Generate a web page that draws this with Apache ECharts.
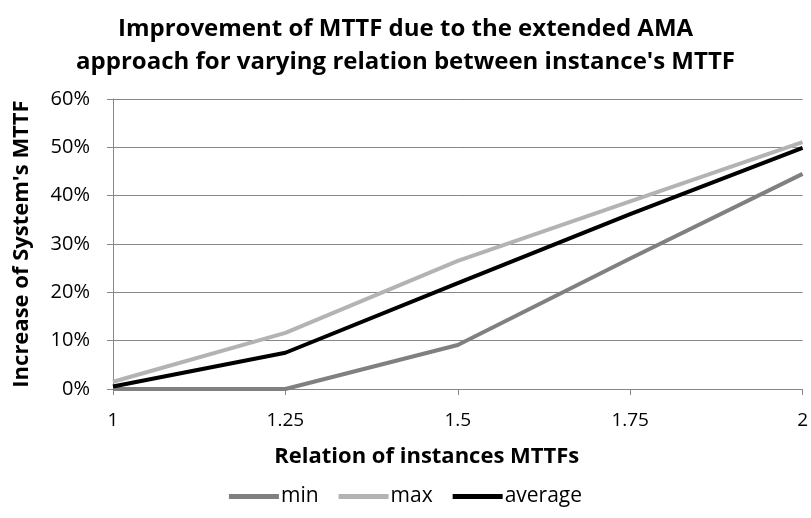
<!DOCTYPE html>
<html>
<head>
<meta charset="utf-8">
<script src="https://cdn.jsdelivr.net/npm/echarts@6/dist/echarts.min.js"></script>
<style>
  html, body { margin: 0; padding: 0; background: #fff; }
  #main { width: 811px; height: 518px; }
</style>
</head>
<body>
<div id="main"></div>
<script>
// chart data
var categories = ['1', '1.25', '1.5', '1.75', '2'];
var minValues = [0, 0, 9.1, 27, 44.5];
var maxValues = [1.5, 11.6, 26.5, 38.8, 51.1];
var avgValues = [0.5, 7.5, 21.9, 36.2, 49.9];

var font = 'Open Sans';
var chart = echarts.init(document.getElementById('main'));

var option = {
  backgroundColor: '#fff',
  title: {
    text: 'Improvement of MTTF due to the extended AMA\napproach for varying relation between instance\'s MTTF',
    left: 'center',
    top: 8,
    textStyle: {
      fontFamily: font,
      fontSize: 24,
      fontWeight: 'bold',
      color: '#000',
      lineHeight: 33
    }
  },
  legend: {
    top: 481,
    left: 'center',
    itemWidth: 50,
    itemHeight: 5,
    itemGap: 20,
    icon: 'rect',
    textStyle: { fontFamily: font, fontSize: 21, color: '#000', padding: [0, 0, 0, -3] },
    data: ['min', 'max', 'average']
  },
  grid: {
    left: 113,
    right: 6,
    top: 99,
    bottom: 129
  },
  xAxis: {
    type: 'category',
    boundaryGap: false,
    data: categories,
    name: 'Relation of instances MTTFs',
    nameLocation: 'middle',
    nameGap: 57,
    nameTextStyle: { fontFamily: font, fontSize: 22, fontWeight: 'bold', color: '#000', padding: [0, 62, 0, 0] },
    axisLine: { lineStyle: { color: '#868686', width: 1 } },
    axisTick: { show: true, length: 6, lineStyle: { color: '#868686' } },
    axisLabel: { fontFamily: font, fontSize: 19, color: '#000', margin: 22 }
  },
  yAxis: {
    type: 'value',
    min: 0,
    max: 60,
    interval: 10,
    name: 'Increase of System\'s MTTF',
    nameLocation: 'middle',
    nameGap: 80,
    nameTextStyle: { fontFamily: font, fontSize: 22, fontWeight: 'bold', color: '#000' },
    axisLine: { show: true, lineStyle: { color: '#868686', width: 1 } },
    axisTick: { show: true, length: 6, lineStyle: { color: '#868686' } },
    axisLabel: { fontFamily: font, fontSize: 20, color: '#000', margin: 23, formatter: '{value}%' },
    splitLine: { lineStyle: { color: '#868686', width: 1 } }
  },
  series: [{
    name: 'min',
    type: 'line',
    data: minValues,
    symbol: 'none',
    color: '#808080',
    lineStyle: { width: 4, color: '#808080' }
  }, {
    name: 'max',
    type: 'line',
    data: maxValues,
    symbol: 'none',
    color: '#b3b3b3',
    lineStyle: { width: 4, color: '#b3b3b3' }
  }, {
    name: 'average',
    type: 'line',
    data: avgValues,
    symbol: 'none',
    color: '#000',
    lineStyle: { width: 4, color: '#000' }
  }]
};

chart.setOption(option);
</script>
</body>
</html>
